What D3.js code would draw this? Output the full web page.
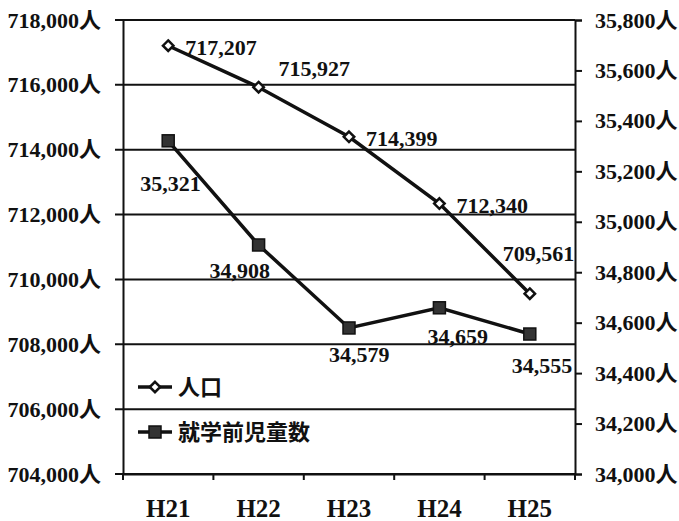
<!DOCTYPE html>
<html>
<head>
<meta charset="utf-8">
<script src="https://cdn.jsdelivr.net/npm/d3@7"></script>
<style>
  body { margin: 0; background: #fff; }
  text { font-family: "Liberation Serif", "Noto Sans CJK JP", serif; font-weight: bold; fill: #111; }
</style>
</head>
<body>
<div id="chart"></div>
<script>
// data
var years = ["H21", "H22", "H23", "H24", "H25"];
var population = [717207, 715927, 714399, 712340, 709561];
var children = [35321, 34908, 34579, 34659, 34555];
var leftTicks = [704000, 706000, 708000, 710000, 712000, 714000, 716000, 718000];
var rightTicks = [34000, 34200, 34400, 34600, 34800, 35000, 35200, 35400, 35600, 35800];
var seriesNames = ["人口", "就学前児童数"];

// label placement (layout only)
var popLabelPos = [[17, 9], [20, -11], [17, 9], [17, 9], [-27, -33]];
var childLabelPos = [[-28, 50], [-49, 33], [-20, 34], [-12, 36], [-18, 39]];

var width = 679, height = 521;
var margin = {top: 20, right: 104, bottom: 47, left: 123};

var svg = d3.select("#chart")
  .append("svg")
  .attr("width", width)
  .attr("height", height);

var x = d3.scaleBand()
  .domain(years)
  .range([margin.left, width - margin.right]);

var yL = d3.scaleLinear()
  .domain([704000, 718000])
  .range([height - margin.bottom, margin.top]);

var yR = d3.scaleLinear()
  .domain([34000, 35800])
  .range([height - margin.bottom, margin.top]);

var fmt = d3.format(",");

// grid lines (left axis ticks)
svg.append("g")
  .selectAll("line")
  .data(leftTicks)
  .enter()
  .append("line")
  .attr("x1", margin.left - 8)
  .attr("x2", width - margin.right)
  .attr("y1", function(d) { return yL(d); })
  .attr("y2", function(d) { return yL(d); })
  .style("stroke", "#111")
  .style("stroke-width", 2);

// left axis
var leftAxis = svg.append("g")
  .attr("transform", "translate(" + margin.left + ",0)")
  .call(d3.axisLeft(yL).tickValues(leftTicks).tickSize(0).tickPadding(22)
    .tickFormat(function(d) { return fmt(d) + "人"; }));
leftAxis.select(".domain").style("stroke", "#111").style("stroke-width", 2);
leftAxis.selectAll("text").style("font-size", "22px").attr("fill", "#111");

// right axis
var rightAxis = svg.append("g")
  .attr("transform", "translate(" + (width - margin.right) + ",0)")
  .call(d3.axisRight(yR).tickValues(rightTicks).tickSize(7).tickPadding(13)
    .tickFormat(function(d) { return fmt(d) + "人"; }));
rightAxis.select(".domain").style("stroke", "#111").style("stroke-width", 2);
rightAxis.selectAll("line").style("stroke", "#111").style("stroke-width", 2);
rightAxis.selectAll("text").style("font-size", "22px").attr("fill", "#111");

// bottom axis
var bottomAxis = svg.append("g")
  .attr("transform", "translate(0," + (height - margin.bottom) + ")")
  .call(d3.axisBottom(x).tickSize(0).tickPadding(25));
bottomAxis.select(".domain").style("stroke", "#111").style("stroke-width", 2);
bottomAxis.selectAll("text").style("font-size", "25px").attr("fill", "#111");
bottomAxis.selectAll("line.sep")
  .data(years.concat(["end"]))
  .enter()
  .append("line")
  .attr("class", "sep")
  .attr("x1", function(d, i) { return margin.left + i * x.step(); })
  .attr("x2", function(d, i) { return margin.left + i * x.step(); })
  .attr("y1", 0)
  .attr("y2", 6)
  .style("stroke", "#111")
  .style("stroke-width", 2);

var cx = function(i) { return x(years[i]) + x.bandwidth() / 2; };

// population line
var popLine = d3.line()
  .x(function(d, i) { return cx(i); })
  .y(function(d) { return yL(d); });

svg.append("path")
  .datum(population)
  .attr("d", popLine)
  .style("fill", "none")
  .style("stroke", "#111")
  .style("stroke-width", 3.5);

// children line
var childLine = d3.line()
  .x(function(d, i) { return cx(i); })
  .y(function(d) { return yR(d); });

svg.append("path")
  .datum(children)
  .attr("d", childLine)
  .style("fill", "none")
  .style("stroke", "#111")
  .style("stroke-width", 3.5);

// diamond markers
var diamond = d3.symbol().type(d3.symbolDiamond2).size(70);
svg.append("g")
  .selectAll("path")
  .data(population)
  .enter()
  .append("path")
  .attr("d", diamond)
  .attr("transform", function(d, i) { return "translate(" + cx(i) + "," + yL(d) + ")"; })
  .style("fill", "#fff")
  .style("stroke", "#111")
  .style("stroke-width", 2.5);

// square markers
svg.append("g")
  .selectAll("rect")
  .data(children)
  .enter()
  .append("rect")
  .attr("x", function(d, i) { return cx(i) - 6; })
  .attr("y", function(d) { return yR(d) - 6; })
  .attr("width", 12)
  .attr("height", 12)
  .style("fill", "#333")
  .style("stroke", "#111")
  .style("stroke-width", 1.5);

// value labels
svg.append("g")
  .selectAll("text")
  .data(population)
  .enter()
  .append("text")
  .attr("x", function(d, i) { return cx(i) + popLabelPos[i][0]; })
  .attr("y", function(d, i) { return yL(d) + popLabelPos[i][1]; })
  .style("font-size", "22px")
  .text(function(d) { return fmt(d); });

svg.append("g")
  .selectAll("text")
  .data(children)
  .enter()
  .append("text")
  .attr("x", function(d, i) { return cx(i) + childLabelPos[i][0]; })
  .attr("y", function(d, i) { return yR(d) + childLabelPos[i][1]; })
  .style("font-size", "22px")
  .text(function(d) { return fmt(d); });

// legend
var legend = svg.append("g").attr("transform", "translate(138,387)");
legend.append("line").attr("x1", 0).attr("x2", 34).attr("y1", 0).attr("y2", 0)
  .style("stroke", "#111").style("stroke-width", 3.5);
legend.append("path").attr("d", diamond).attr("transform", "translate(17,0)")
  .style("fill", "#fff").style("stroke", "#111").style("stroke-width", 2.5);
legend.append("text").attr("x", 40).attr("y", 8).style("font-size", "22px").text(seriesNames[0]);

legend.append("line").attr("x1", 0).attr("x2", 34).attr("y1", 45).attr("y2", 45)
  .style("stroke", "#111").style("stroke-width", 3.5);
legend.append("rect").attr("x", 11).attr("y", 39).attr("width", 12).attr("height", 12)
  .style("fill", "#333").style("stroke", "#111").style("stroke-width", 1.5);
legend.append("text").attr("x", 40).attr("y", 53).style("font-size", "22px").text(seriesNames[1]);
</script>
</body>
</html>
